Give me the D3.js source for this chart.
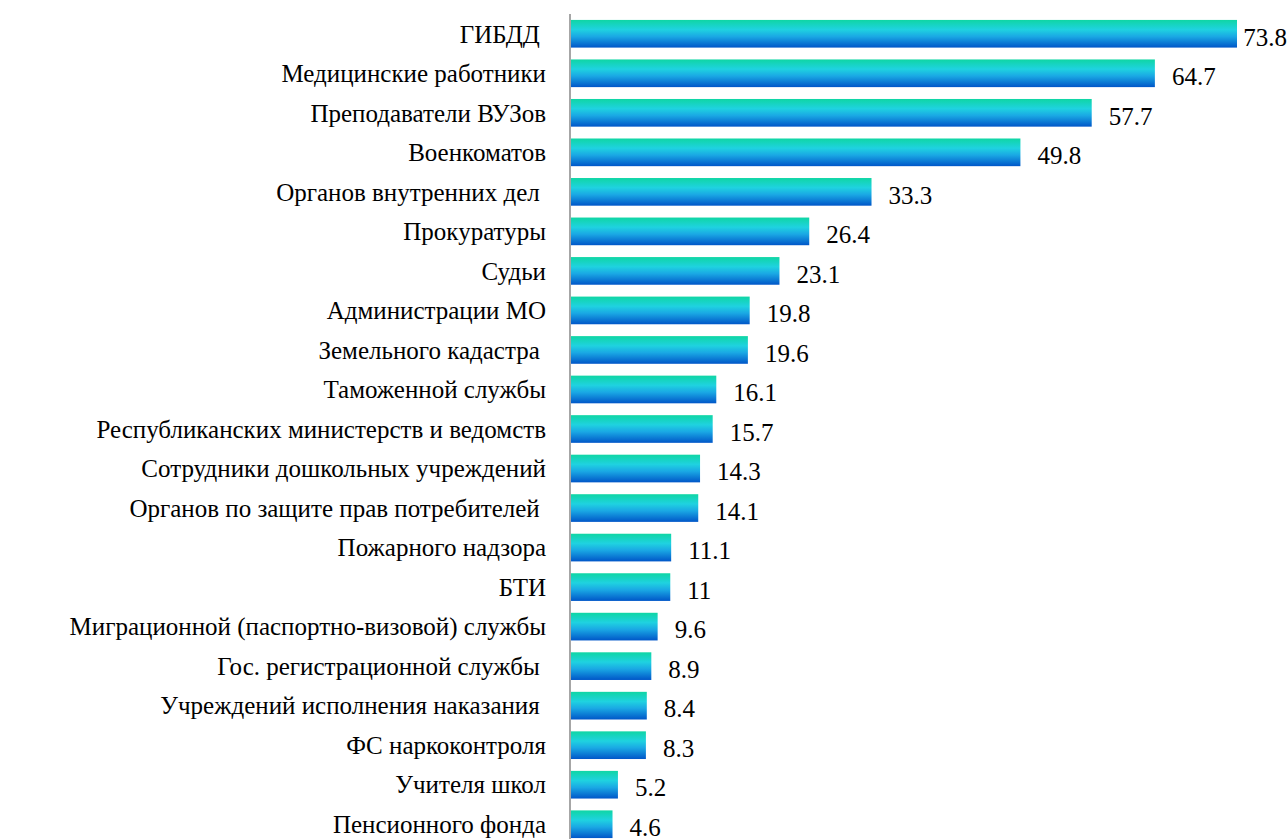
<!DOCTYPE html>
<html>
<head>
<meta charset="utf-8">
<script src="https://cdn.jsdelivr.net/npm/d3@7"></script>
<style>
  body { margin: 0; background: #fff; }
  svg { display: block; }
</style>
</head>
<body>
<svg id="chart" width="1288" height="839"></svg>
<script>
// Categories (top to bottom) and values, %
const categories = [
  'ГИБДД ', 'Медицинские работники', 'Преподаватели ВУЗов', 'Военкоматов',
  'Органов внутренних дел ', 'Прокуратуры', 'Судьи', 'Администрации МО',
  'Земельного кадастра ', 'Таможенной службы', 'Республиканских министерств и ведомств',
  'Сотрудники дошкольных учреждений', 'Органов по защите прав потребителей ',
  'Пожарного надзора', 'БТИ', 'Миграционной (паспортно-визовой) службы',
  'Гос. регистрационной службы ', 'Учреждений исполнения наказания ',
  'ФС наркоконтроля', 'Учителя школ', 'Пенсионного фонда'
];
const values = [73.8, 64.7, 57.7, 49.8, 33.3, 26.4, 23.1, 19.8, 19.6, 16.1, 15.7,
  14.3, 14.1, 11.1, 11, 9.6, 8.9, 8.4, 8.3, 5.2, 4.6];

const width = 1288, height = 839;
const margin = { top: 14, right: 51, bottom: 0, left: 571 };
const fontFamily = "'Liberation Serif', 'Times New Roman', 'DejaVu Serif', serif";

const svg = d3.select('#chart');

// Gradient for bars
const defs = svg.append('defs');
const grad = defs.append('linearGradient')
  .attr('id', 'barGrad')
  .attr('x1', 0).attr('y1', 0).attr('x2', 0).attr('y2', 1);
grad.append('stop').attr('offset', '0%').attr('stop-color', '#0fd6a4');
grad.append('stop').attr('offset', '35%').attr('stop-color', '#1fd2e0');
grad.append('stop').attr('offset', '60%').attr('stop-color', '#1aa8e4');
grad.append('stop').attr('offset', '100%').attr('stop-color', '#0056c8');

const x = d3.scaleLinear()
  .domain([0, 73.8])
  .range([margin.left, width - margin.right]);

const y = d3.scaleBand()
  .domain(categories)
  .range([margin.top, height + 5])
  .paddingInner(0.3)
  .paddingOuter(0.15);

// Bars
svg.append('g')
  .selectAll('rect')
  .data(values)
  .enter().append('rect')
  .attr('x', x(0))
  .attr('y', (d, i) => y(categories[i]))
  .attr('width', d => x(d) - x(0))
  .attr('height', y.bandwidth())
  .attr('fill', 'url(#barGrad)');

// Category labels
svg.append('g')
  .selectAll('text')
  .data(categories)
  .enter().append('text')
  .attr('x', 546)
  .attr('y', d => y(d) + y.bandwidth() / 2)
  .attr('dy', '0.35em')
  .attr('text-anchor', 'end')
  .attr('font-family', fontFamily)
  .attr('font-size', 25)
  .style('white-space', 'pre')
  .text(d => d);

// Value labels
const vl = svg.append('g')
  .selectAll('text')
  .data(values)
  .enter().append('text')
  .attr('y', (d, i) => y(categories[i]) + y.bandwidth() / 2 + 3)
  .attr('dy', '0.35em')
  .attr('font-family', fontFamily)
  .attr('font-size', 25)
  .text(d => d);

vl.each(function(d) {
  const w = this.getComputedTextLength();
  d3.select(this).attr('x', Math.min(x(d) + 17, width - w - 1));
});

// Axis line
svg.append('line')
  .attr('x1', x(0) - 1).attr('x2', x(0) - 1)
  .attr('y1', margin.top).attr('y2', height)
  .attr('stroke', '#a6a6a6')
  .attr('stroke-width', 2);
</script>
</body>
</html>
